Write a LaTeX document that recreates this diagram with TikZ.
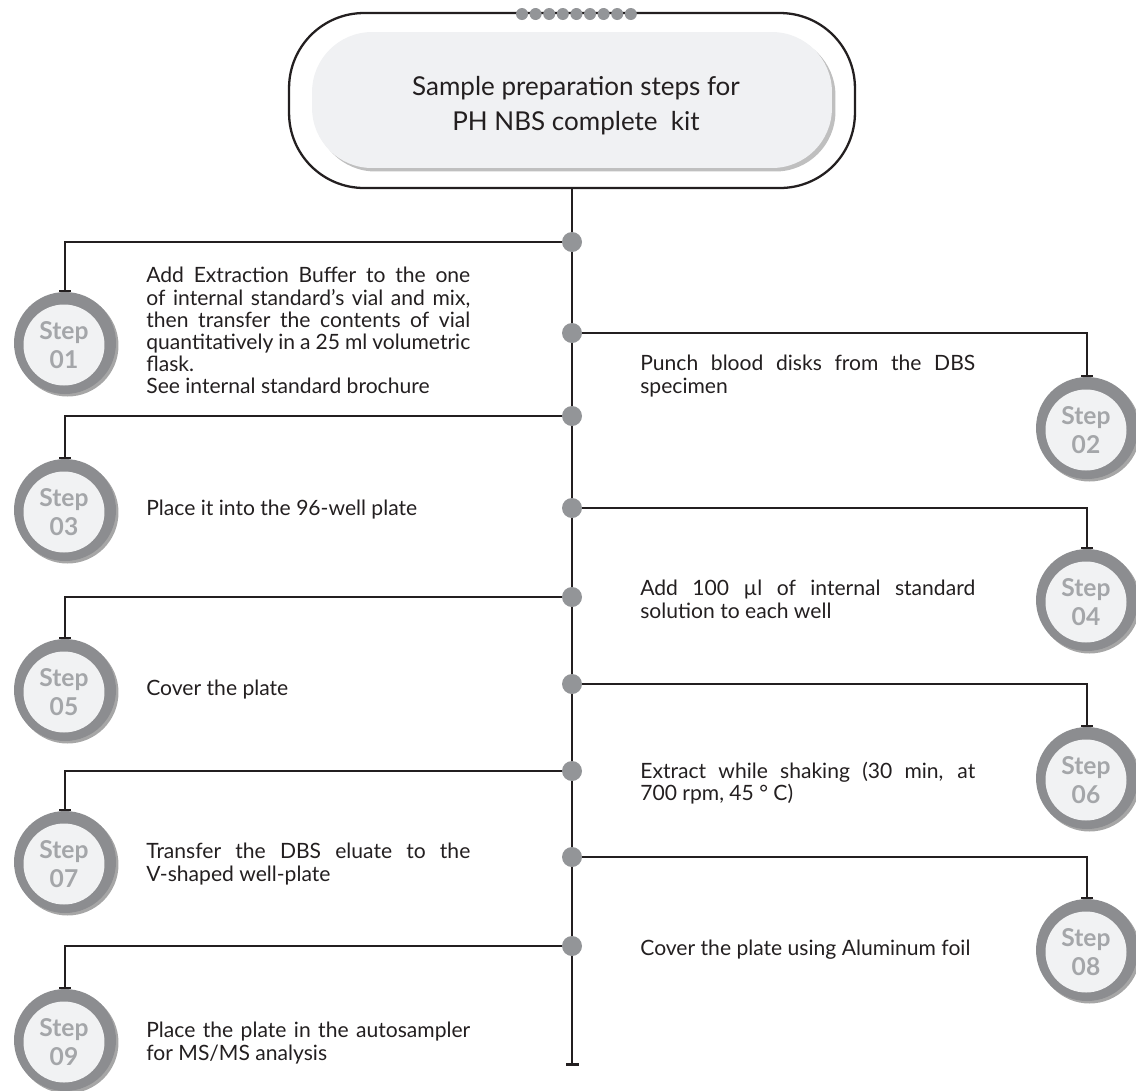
\documentclass[tikz,border=0pt]{standalone}
\usepackage{fontspec}
\setmainfont{Lato}
\definecolor{linedark}{HTML}{231F20}
\definecolor{dotgray}{HTML}{939598}
\definecolor{ringgray}{HTML}{8C8D90}
\definecolor{facegray}{HTML}{F1F2F3}
\definecolor{stepgray}{HTML}{A4A6A9}
\definecolor{titlegray}{HTML}{F0F1F3}
\usetikzlibrary{arrows.meta,shadows,positioning}

\begin{document}
\begin{tikzpicture}[x=0.02cm,y=-0.02cm,
    trunkline/.style={draw=linedark,line width=1.5pt},
    branchline/.style={draw=linedark,line width=1.1pt,-{Bar[width=0.24cm]}},
    bullet/.style={circle,fill=dotgray,inner sep=0pt,minimum size=0.4cm},
    stepring/.style={circle,fill=ringgray,inner sep=0pt,minimum size=2.04cm,
        drop shadow={shadow xshift=0.05cm,shadow yshift=-0.05cm,opacity=0.35,fill=black}},
    stepface/.style={circle,fill=facegray,inner sep=0pt,minimum size=1.62cm,
        text=stepgray,align=center,font=\bfseries\fontsize{14}{16.8}\selectfont},
    lefttext/.style={anchor=north west,inner sep=0pt,text width=6.48cm,align=justify,
        text=linedark,font=\fontsize{12}{12.6}\selectfont},
    righttext/.style={lefttext,text width=6.7cm}
    ]
    \useasboundingbox (0,0) rectangle (1136,1090);

    % the title
    \node (frame) [draw=linedark,line width=1.3pt,rounded corners=1.5cm,
        minimum width=11.32cm,minimum height=3.5cm] at (572,100.5) {};
    \node (titlebox) [fill=titlegray,rounded corners=1.2cm,minimum width=10.4cm,
        minimum height=2.72cm,
        drop shadow={shadow xshift=0.07cm,shadow yshift=-0.07cm,opacity=0.25,fill=black}]
        at (572,100) {};
    \node (title) [align=center,text=linedark,font=\fontsize{14.8}{19.9}\selectfont]
        at (576,106) {Sample preparation steps for\\PH NBS complete\ \ kit};
    \fill[dotgray] (522,14) circle[radius=0.12cm] (535.6,14) circle[radius=0.12cm]
        (549.2,14) circle[radius=0.12cm] (562.8,14) circle[radius=0.12cm]
        (576.4,14) circle[radius=0.12cm] (590,14) circle[radius=0.12cm]
        (603.6,14) circle[radius=0.12cm] (617.2,14) circle[radius=0.12cm]
        (630.8,14) circle[radius=0.12cm];

    % the trunk
    \coordinate (trunkend) at (572,1066);
    \draw[trunkline,-{Bar[width=0.26cm]}] (frame.south) -- (trunkend);

    \node (d1) [bullet] at (572,242) {};
    \node (d2) [bullet] at (572,333) {};
    \node (d3) [bullet] at (572,416) {};
    \node (d4) [bullet] at (572,508) {};
    \node (d5) [bullet] at (572,597) {};
    \node (d6) [bullet] at (572,684) {};
    \node (d7) [bullet] at (572,771) {};
    \node (d8) [bullet] at (572,857) {};
    \node (d9) [bullet] at (572,946) {};

    % the steps
    \node (s1) [stepring] at (65,343) {};
    \node (s2) [stepring] at (1087,428) {};
    \node (s3) [stepring] at (65,510) {};
    \node (s4) [stepring] at (1087,600) {};
    \node (s5) [stepring] at (65,690) {};
    \node (s6) [stepring] at (1087,778) {};
    \node (s7) [stepring] at (65,862) {};
    \node (s8) [stepring] at (1087,950) {};
    \node (s9) [stepring] at (65,1040) {};

    \node (f1) [stepface] at ([shift={(-1,2)}]s1) {Step\\01};
    \node (f2) [stepface] at ([shift={(-1,2)}]s2) {Step\\02};
    \node (f3) [stepface] at ([shift={(-1,2)}]s3) {Step\\03};
    \node (f4) [stepface] at ([shift={(-1,2)}]s4) {Step\\04};
    \node (f5) [stepface] at ([shift={(-1,2)}]s5) {Step\\05};
    \node (f6) [stepface] at ([shift={(-1,2)}]s6) {Step\\06};
    \node (f7) [stepface] at ([shift={(-1,2)}]s7) {Step\\07};
    \node (f8) [stepface] at ([shift={(-1,2)}]s8) {Step\\08};
    \node (f9) [stepface] at ([shift={(-1,2)}]s9) {Step\\09};

    \node (t1) [lefttext] at (146,267) {Add Extraction Buffer to the one\linebreak
        of internal standard’s vial and mix,\linebreak
        then transfer the contents of vial\linebreak
        quantitatively in a 25 ml volumetric\linebreak
        flask.\\See internal standard brochure};
    \node (t2) [righttext] at (640,355) {Punch blood disks from the DBS\linebreak specimen};
    \node (t3) [lefttext,anchor=west] at (146,510) {Place it into the 96-well plate};
    \node (t4) [righttext] at (640,580) {Add 100 µl of internal standard\linebreak solution to each well};
    \node (t5) [lefttext,anchor=west] at (146,690) {Cover the plate};
    \node (t6) [righttext] at (640,762) {Extract while shaking (30 min, at\linebreak 700 rpm, 45 ° C)};
    \node (t7) [lefttext] at (146,843) {Transfer the DBS eluate to the\linebreak V-shaped well-plate};
    \node (t8) [righttext,anchor=west] at (640,950) {Cover the plate using Aluminum foil};
    \node (t9) [lefttext] at (146,1022) {Place the plate in the autosampler\linebreak for MS/MS analysis};

    % the edges
    \draw[branchline] (d1) -| (s1.north);
    \draw[branchline] (d2) -| (s2.north);
    \draw[branchline] (d3) -| (s3.north);
    \draw[branchline] (d4) -| (s4.north);
    \draw[branchline] (d5) -| (s5.north);
    \draw[branchline] (d6) -| (s6.north);
    \draw[branchline] (d7) -| (s7.north);
    \draw[branchline] (d8) -| (s8.north);
    \draw[branchline] (d9) -| (s9.north);
\end{tikzpicture}
\end{document}
